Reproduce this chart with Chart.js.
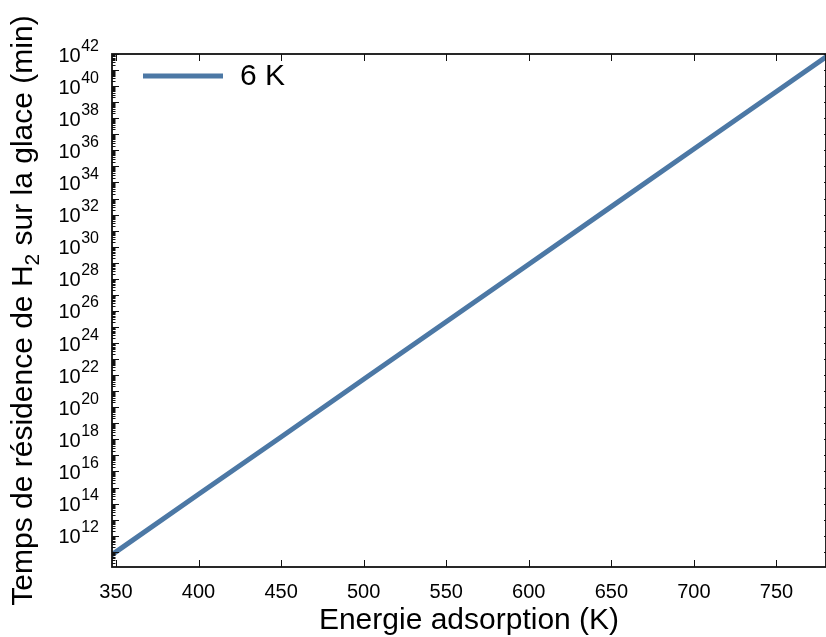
<!DOCTYPE html>
<html>
<head>
<meta charset="utf-8">
<script src="https://cdn.jsdelivr.net/npm/chart.js@4/dist/chart.umd.min.js"></script>
<style>
    html, body { margin: 0; padding: 0; background: #fff; }
    #wrap { width: 826px; height: 637px; }
</style>
</head>
<body>
<div id="wrap"><canvas id="graphe"></canvas></div>
<script>
"use strict";

// energie d'adsorption (K) et temps de residence (min)
var energie = [345, 400, 450, 500, 550, 600, 650, 700, 750, 785];
var tempsResidence = [4.3e10, 3.8e14, 1.4e18, 5.5e21, 2.1e25, 8.1e28, 3.1e32, 1.2e36, 4.6e39, 1.5e42];
var serieLabel = '6 K';

var xTicks = [350, 400, 450, 500, 550, 600, 650, 700, 750];
var yExposants = [12, 14, 16, 18, 20, 22, 24, 26, 28, 30, 32, 34, 36, 38, 40, 42];

var police = '"Liberation Sans", Arial, Helvetica, sans-serif';
var couleurSerie = '#4c78a5';

function trait(ctx, x1, y1, x2, y2) {
    ctx.beginPath();
    ctx.moveTo(x1, y1);
    ctx.lineTo(x2, y2);
    ctx.stroke();
}

// cadre, ticks interieurs, labels en puissances de 10, titre y et legende
var cadrePlugin = {
    id: 'cadre',
    afterDraw: function (chart) {
        var ctx = chart.ctx;
        var a = chart.chartArea;
        var sx = chart.scales.x;
        var sy = chart.scales.y;
        ctx.save();
        ctx.strokeStyle = '#111';

        ctx.lineWidth = 1;
        xTicks.forEach(function (v) {
            var px = Math.round(sx.getPixelForValue(v)) + 0.5;
            trait(ctx, px, a.bottom, px, a.bottom - 7);
            trait(ctx, px, a.top, px, a.top + 7);
        });

        for (var n = 10; n <= 42; n++) {
            for (var k = 1; k <= 9; k++) {
                var v = k * Math.pow(10, n);
                if (v < sy.min || v > sy.max) continue;
                var py = Math.round(sy.getPixelForValue(v)) + 0.5;
                var len = k === 1 ? 7 : 3.5;
                trait(ctx, a.left, py, a.left + len, py);
                if (k === 1) trait(ctx, a.right - 2, py, a.right, py);
            }
        }

        ctx.lineWidth = 1.8;
        ctx.strokeRect(a.left, a.top, a.right - a.left, a.bottom - a.top);

        // labels y : 10 + exposant
        ctx.fillStyle = '#000';
        yExposants.forEach(function (e) {
            var py = sy.getPixelForValue(Math.pow(10, e));
            var exp = String(e);
            ctx.font = '16px ' + police;
            var wE = ctx.measureText(exp).width;
            var xFin = a.left - 13;
            ctx.textAlign = 'left';
            ctx.textBaseline = 'alphabetic';
            ctx.fillText(exp, xFin - wE, py - 3.5);
            ctx.font = '20px ' + police;
            ctx.textAlign = 'right';
            ctx.textBaseline = 'middle';
            ctx.fillText('10', xFin - wE - 0.5, py + 2);
        });

        // titre y avec indice
        var morceaux = [
            { t: 'Temps de résidence de H', f: 30, d: 0 },
            { t: '2', f: 21, d: 9 },
            { t: ' sur la glace (min)', f: 30, d: 0 }
        ];
        var total = 0;
        morceaux.forEach(function (m) {
            ctx.font = m.f + 'px ' + police;
            m.w = ctx.measureText(m.t).width;
            total += m.w;
        });
        ctx.translate(24, (a.top + a.bottom) / 2);
        ctx.rotate(-Math.PI / 2);
        ctx.textAlign = 'left';
        ctx.textBaseline = 'middle';
        var xc = -total / 2;
        morceaux.forEach(function (m) {
            ctx.font = m.f + 'px ' + police;
            ctx.fillText(m.t, xc, m.d);
            xc += m.w;
        });
        ctx.setTransform(1, 0, 0, 1, 0, 0);

        // legende
        var ds = chart.data.datasets[0];
        ctx.strokeStyle = ds.borderColor;
        ctx.lineWidth = ds.borderWidth;
        trait(ctx, 143, 76, 223, 76);
        ctx.fillStyle = '#000';
        ctx.font = '30px ' + police;
        ctx.textAlign = 'left';
        ctx.textBaseline = 'middle';
        ctx.fillText(ds.label, 240, 77);
        ctx.restore();
    }
};

var graphe = new Chart('graphe', {
    type: 'line',
    data: {
        datasets: [{
            label: serieLabel,
            data: energie.map(function (e, i) { return { x: e, y: tempsResidence[i] }; }),
            borderColor: couleurSerie,
            borderWidth: 5,
            pointRadius: 0,
            tension: 0,
            clip: 0
        }]
    },
    options: {
        responsive: true,
        maintainAspectRatio: false,
        animation: false,
        devicePixelRatio: 1,
        layout: { padding: { top: 54, right: 0, bottom: 0, left: 0 } },
        plugins: {
            legend: { display: false },
            tooltip: { enabled: false }
        },
        scales: {
            x: {
                type: 'linear',
                min: 347.6,
                max: 780,
                afterBuildTicks: function (s) {
                    s.ticks = xTicks.map(function (v) { return { value: v }; });
                },
                afterFit: function (s) { s.height = 70; },
                grid: { display: false, drawTicks: false },
                border: { display: false },
                ticks: {
                    padding: 13,
                    color: '#000',
                    maxRotation: 0,
                    font: { family: police, size: 20 }
                },
                title: {
                    display: true,
                    text: 'Energie adsorption (K)',
                    color: '#000',
                    padding: { top: 0, bottom: 0 },
                    font: { family: police, size: 30, lineHeight: 1.1 }
                }
            },
            y: {
                type: 'logarithmic',
                min: 1.12e10,
                max: 1e42,
                afterBuildTicks: function (s) {
                    s.ticks = yExposants.map(function (e) { return { value: Math.pow(10, e) }; });
                },
                afterFit: function (s) { s.width = 112; },
                grid: { display: false, drawTicks: false },
                border: { display: false },
                ticks: { display: false }
            }
        }
    },
    plugins: [cadrePlugin]
});
</script>
</body>
</html>
